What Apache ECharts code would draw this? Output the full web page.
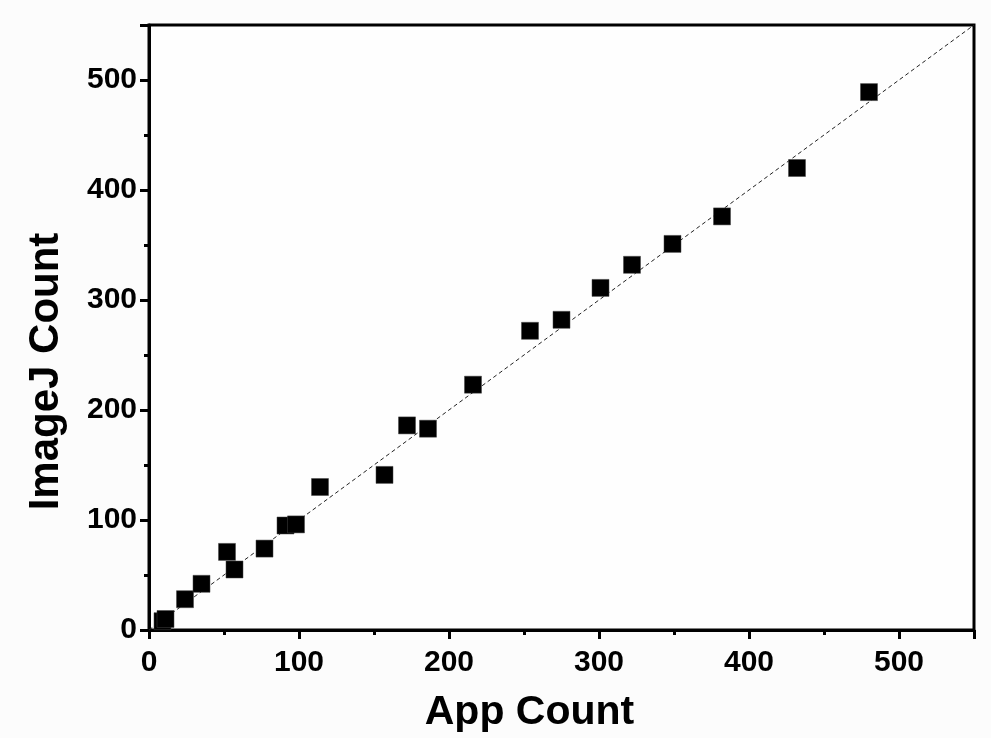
<!DOCTYPE html>
<html>
<head>
<meta charset="utf-8">
<script src="https://cdn.jsdelivr.net/npm/echarts@6/dist/echarts.min.js"></script>
<style>html,body{margin:0;padding:0;background:#fcfcfc;}#c{width:991px;height:738px;}</style>
</head>
<body>
<div id="c"></div>
<script>
const appCount = [9, 11, 24, 35, 52, 57, 77, 91, 98, 114, 157, 172, 186, 216, 254, 275, 301, 322, 349, 382, 432, 480];
const imageJCount = [8, 10, 28, 42, 71, 55, 74, 95, 96, 130, 141, 186, 183, 223, 272, 282, 311, 332, 351, 376, 420, 489];
const refLine = [[0, 0], [550, 550]];
const xTickLabels = [0, 100, 200, 300, 400, 500];
const yTickLabels = [0, 100, 200, 300, 400, 500];

const points = appCount.map((x, i) => [x, imageJCount[i]]);
const font = '"Liberation Sans", Arial, sans-serif';
const chart = echarts.init(document.getElementById('c'), null, {renderer: 'canvas'});
chart.setOption({
  backgroundColor: '#fcfcfc',
  animation: false,
  grid: {left: 149, right: 17, top: 25, bottom: 105, show: true, borderColor: '#000', borderWidth: 3, backgroundColor: '#fefefe'},
  xAxis: {
    type: 'value', min: 0, max: 550, interval: 100,
    name: 'App Count', nameLocation: 'middle', nameGap: 62,
    nameTextStyle: {fontFamily: font, fontWeight: 'bold', fontSize: 41, color: '#000', padding: [0, 64, 0, 0]},
    axisLine: {lineStyle: {color: '#000', width: 3}},
    axisTick: {show: true, length: 9, lineStyle: {color: '#000', width: 3}},
    minorTick: {show: true, splitNumber: 2, length: 5, lineStyle: {color: '#000', width: 3}},
    splitLine: {show: false},
    axisLabel: {fontFamily: font, fontWeight: 'bold', fontSize: 30, color: '#000', margin: 18,
      formatter: v => xTickLabels.includes(v) ? String(v) : ''}
  },
  yAxis: {
    type: 'value', min: 0, max: 550, interval: 100,
    name: 'ImageJ Count', nameLocation: 'middle', nameGap: 82,
    nameTextStyle: {fontFamily: font, fontWeight: 'bold', fontSize: 42, color: '#000', padding: [0, 88, 0, 0]},
    axisLine: {lineStyle: {color: '#000', width: 3}},
    axisTick: {show: true, length: 9, lineStyle: {color: '#000', width: 3}},
    minorTick: {show: true, splitNumber: 2, length: 5, lineStyle: {color: '#000', width: 3}},
    splitLine: {show: false},
    axisLabel: {fontFamily: font, fontWeight: 'bold', fontSize: 30, color: '#000', margin: 12,
      formatter: v => yTickLabels.includes(v) ? String(v) : ''}
  },
  series: [
    {type: 'line', data: refLine, symbol: 'none', z: 1,
      lineStyle: {color: '#222', width: 1, type: [4, 3]}},
    {type: 'scatter', data: points, symbol: 'rect', symbolSize: 17, z: 3,
      itemStyle: {color: '#000', opacity: 1, borderColor: '#444', borderWidth: 0.5}}
  ]
});
</script>
</body>
</html>
